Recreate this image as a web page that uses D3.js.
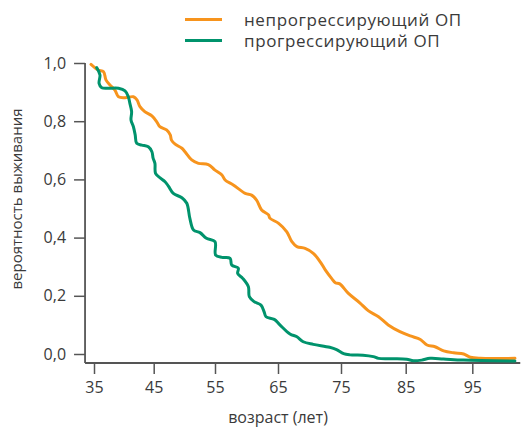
<!DOCTYPE html>
<html>
<head>
<meta charset="utf-8">
<script src="https://cdn.jsdelivr.net/npm/d3@7"></script>
<style>
  html, body { margin: 0; padding: 0; background: #fff; }
  svg { display: block; }
  text { font-family: "Open Sans", "Noto Sans", sans-serif; fill: #3a3a3a; }
</style>
</head>
<body>
<svg id="chart" width="522" height="428"></svg>
<script>
// Survival curves: age (years) vs survival probability
const seriesNames = ["непрогрессирующий ОП", "прогрессирующий ОП"];
const seriesColors = ["#f7941d", "#00936c"];

const nonProgAge = [34.5, 35.7, 36.6, 37.0, 37.7, 38.5, 39.1, 40.2, 41.6, 42.2, 42.7, 43.5, 44.7, 45.5, 46.0, 47.1, 47.7, 47.9, 48.5, 49.6, 50.1, 51.2, 52.3, 53.9, 55.0, 56.1, 56.6, 57.9, 59.8, 60.8, 61.6, 62.4, 63.5, 63.7, 65.1, 66.4, 67.2, 68.0, 69.3, 70.6, 71.7, 72.5, 73.5, 74.1, 74.8, 76.1, 77.9, 79.2, 80.8, 82.3, 84.1, 85.7, 87.2, 88.2, 89.4, 90.7, 92.2, 93.7, 94.7, 96.2, 101.4];
const nonProgSurv = [0.995, 0.976, 0.970, 0.942, 0.924, 0.907, 0.884, 0.881, 0.884, 0.873, 0.850, 0.833, 0.818, 0.798, 0.781, 0.770, 0.753, 0.735, 0.721, 0.707, 0.695, 0.667, 0.655, 0.651, 0.632, 0.615, 0.598, 0.581, 0.552, 0.546, 0.529, 0.495, 0.478, 0.467, 0.449, 0.420, 0.386, 0.369, 0.363, 0.346, 0.317, 0.289, 0.260, 0.245, 0.241, 0.209, 0.176, 0.149, 0.128, 0.100, 0.077, 0.062, 0.050, 0.031, 0.025, 0.011, 0.004, 0.000, -0.011, -0.015, -0.015];

const progAge = [35.45, 36.0, 35.85, 36.3, 37.4, 39.1, 40.2, 40.75, 41.0, 41.3, 41.2, 41.6, 41.9, 42.15, 43.0, 44.1, 44.7, 44.9, 45.2, 45.3, 46.0, 46.85, 47.4, 48.2, 49.6, 50.4, 50.9, 51.5, 52.55, 53.6, 55.0, 55.1, 56.1, 57.4, 57.65, 58.7, 58.6, 59.4, 60.3, 60.45, 61.2, 62.3, 62.8, 63.1, 64.4, 65.3, 66.9, 68.0, 69.0, 70.6, 73.2, 74.3, 75.4, 76.4, 78.4, 80.0, 80.8, 83.1, 85.15, 86.15, 87.4, 88.65, 90.65, 93.65, 101.4];
const progSurv = [0.984, 0.959, 0.930, 0.915, 0.913, 0.913, 0.904, 0.884, 0.862, 0.833, 0.804, 0.781, 0.753, 0.724, 0.718, 0.712, 0.695, 0.673, 0.655, 0.621, 0.606, 0.592, 0.577, 0.552, 0.537, 0.518, 0.466, 0.426, 0.417, 0.398, 0.386, 0.340, 0.332, 0.329, 0.306, 0.295, 0.277, 0.260, 0.231, 0.197, 0.180, 0.168, 0.145, 0.128, 0.119, 0.100, 0.069, 0.059, 0.042, 0.033, 0.023, 0.015, 0.001, -0.003, -0.004, -0.009, -0.015, -0.016, -0.018, -0.023, -0.021, -0.015, -0.017, -0.021, -0.024];

const xTicks = [35, 45, 55, 65, 75, 85, 95];
const yTicks = [0, 0.2, 0.4, 0.6, 0.8, 1.0];
const xTitle = "возраст (лет)";
const yTitle = "вероятность выживания";

const svg = d3.select("#chart");

// Age axis is slightly stretched towards older ages, so use a piecewise scale
const x = d3.scaleLinear()
  .domain(xTicks)
  .range([94, 153.7, 215, 278, 341, 405.7, 472.3]);
const y = d3.scaleLinear().domain([0, 1]).range([354, 63]);

const axisColor = "#555";
const comma = d3.formatLocale({ decimal: ",", thousands: " ", grouping: [3], currency: ["", ""] }).format(".1f");

// Y axis
const yAxis = svg.append("g")
  .attr("transform", `translate(${x(33.5)},0)`)
  .call(d3.axisLeft(y).tickValues(yTicks).tickFormat(comma).tickSize(11).tickPadding(8));
yAxis.select(".domain").remove();
yAxis.selectAll(".tick line").attr("stroke", axisColor).attr("stroke-width", 1.5);
yAxis.selectAll(".tick text").attr("font-size", 16).style("fill", "#3a3a3a");

// X axis
const baseY = y(-0.031);
const xAxis = svg.append("g")
  .attr("transform", `translate(0,${baseY})`)
  .call(d3.axisBottom(x).tickValues(xTicks).tickFormat(d3.format("d")).tickSize(11).tickPadding(8));
xAxis.select(".domain").remove();
xAxis.selectAll(".tick line").attr("stroke", axisColor).attr("stroke-width", 1.5);
xAxis.selectAll(".tick text").attr("font-size", 16).style("fill", "#3a3a3a");

// Axis lines
svg.append("line")
  .attr("x1", x(33.5)).attr("x2", x(33.5))
  .attr("y1", y(1.0)).attr("y2", baseY)
  .attr("stroke", axisColor).attr("stroke-width", 1.8);
svg.append("line")
  .attr("x1", x(33.5)).attr("x2", x(102.2))
  .attr("y1", baseY).attr("y2", baseY)
  .attr("stroke", axisColor).attr("stroke-width", 1.8);

// Axis titles
svg.append("text")
  .attr("x", x(65)).attr("y", 423)
  .attr("text-anchor", "middle")
  .attr("font-size", 16)
  .text(xTitle);
svg.append("text")
  .attr("transform", `translate(18,${199}) rotate(-90)`)
  .attr("text-anchor", "middle")
  .attr("dominant-baseline", "middle")
  .attr("font-size", 15)
  .text(yTitle);

// Curves
const line = d3.line()
  .x(d => x(d[0]))
  .y(d => y(d[1]))
  .curve(d3.curveCatmullRom.alpha(0.5));

const series = [
  d3.zip(nonProgAge, nonProgSurv),
  d3.zip(progAge, progSurv)
];
series.forEach((pts, i) => {
  svg.append("path")
    .attr("d", line(pts))
    .attr("fill", "none")
    .attr("stroke", seriesColors[i])
    .attr("stroke-width", 3)
    .attr("stroke-linejoin", "round")
    .attr("stroke-linecap", "round");
});

// Legend
const legend = svg.append("g");
seriesNames.forEach((name, i) => {
  const ly = 19.5 + i * 21;
  legend.append("line")
    .attr("x1", 185).attr("x2", 222)
    .attr("y1", ly).attr("y2", ly)
    .attr("stroke", seriesColors[i])
    .attr("stroke-width", 3);
  legend.append("text")
    .attr("x", 244).attr("y", ly + 6)
    .attr("font-size", 17)
    .attr("letter-spacing", 0.6)
    .text(name);
});
</script>
</body>
</html>
